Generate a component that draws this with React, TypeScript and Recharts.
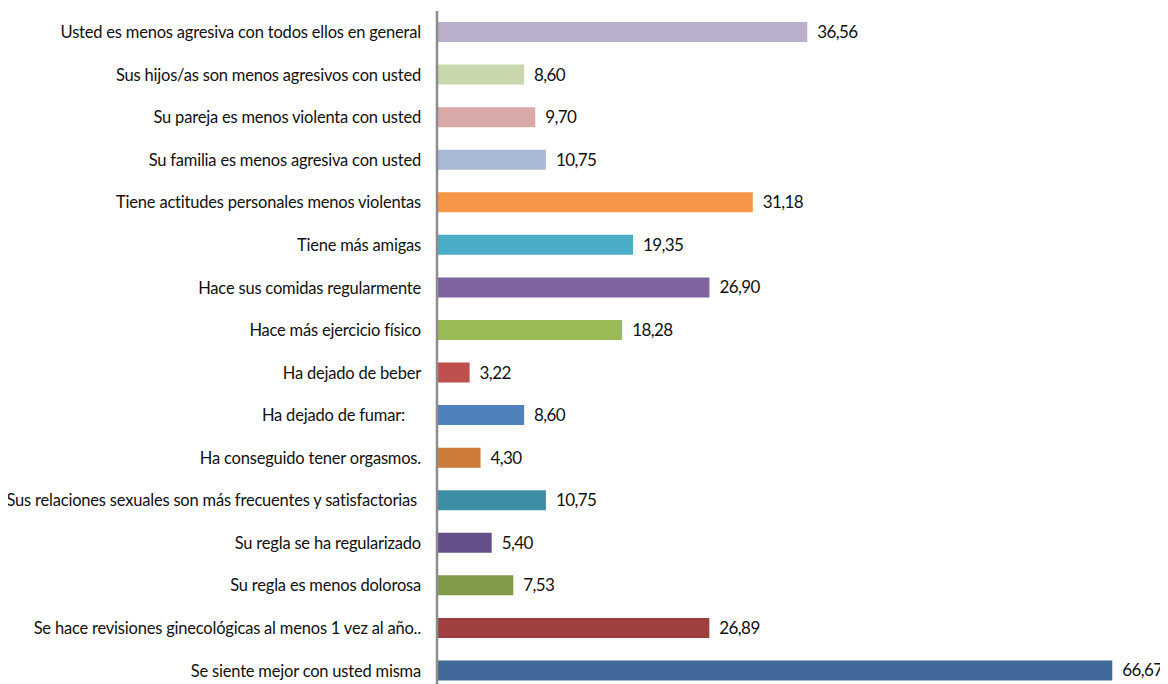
import React from "react";
import { BarChart, Bar, XAxis, YAxis, Cell, LabelList } from "recharts";

const categories: string[] = [
  "Usted es menos agresiva con todos ellos en general",
  "Sus hijos/as  son menos agresivos con usted",
  "Su pareja es menos violenta con usted",
  "Su familia  es menos agresiva con usted",
  "Tiene actitudes  personales menos violentas",
  "Tiene más amigas",
  "Hace sus comidas  regularmente",
  "Hace más ejercicio físico",
  "Ha dejado de beber",
  "Ha dejado de fumar:\u00a0\u00a0\u00a0\u00a0",
  "Ha conseguido tener orgasmos.",
  "Sus relaciones sexuales son más frecuentes y satisfactorias\u00a0",
  "Su regla se ha regularizado",
  "Su regla es menos dolorosa",
  "Se hace revisiones ginecológicas al  menos 1 vez al año..",
  "Se siente mejor con usted misma",
];

const values: number[] = [
  36.56, 8.6, 9.7, 10.75, 31.18, 19.35, 26.9, 18.28, 3.22, 8.6, 4.3, 10.75, 5.4, 7.53, 26.89, 66.67,
];

const valueLabels: string[] = [
  "36,56", "8,60", "9,70", "10,75", "31,18", "19,35", "26,90", "18,28",
  "3,22", "8,60", "4,30", "10,75", "5,40", "7,53", "26,89", "66,67",
];

const colors: string[] = [
  "#B9AFCA", "#C9D8AC", "#D9AAA8", "#AAB9D6", "#F79646", "#4BACC6", "#8064A2", "#9BBB59",
  "#C0504D", "#4F81BD", "#CC7B38", "#3C8EA4", "#664F88", "#7F9A48", "#9E413E", "#416A9B",
];

const data = categories.map((name, i) => ({ name, value: values[i], label: valueLabels[i] }));

const FONT = "Lato, 'Open Sans', sans-serif";

export default function App() {
  return (
    <div style={{ width: 1160, height: 686 }}>
      <style>{"html,body{overflow:hidden;}"}</style>
      <BarChart
        width={1160}
        height={686}
        data={data}
        layout="vertical"
        margin={{ top: 3, right: 22, bottom: 2, left: 0 }}
        style={{ overflow: "visible" }}
      >
        <XAxis type="number" domain={[0, 70]} hide />
        <YAxis
          type="category"
          dataKey="name"
          width={429}
          axisLine={{ stroke: "#8c8c8c", strokeWidth: 2.5 }}
          tickLine={false}
          tickSize={0}
          tickMargin={16}
          interval={0}
          tick={{ fill: "#111", fontSize: 16.5, fontFamily: FONT, letterSpacing: -0.2 }}
        />
        <Bar dataKey="value" barSize={20} isAnimationActive={false}>
          {data.map((d, i) => (
            <Cell key={i} fill={colors[i]} />
          ))}
          <LabelList
            dataKey="label"
            position="right"
            offset={10}
            style={{ fill: "#111", fontSize: 17, fontFamily: FONT, letterSpacing: -0.6 }}
          />
        </Bar>
      </BarChart>
    </div>
  );
}
